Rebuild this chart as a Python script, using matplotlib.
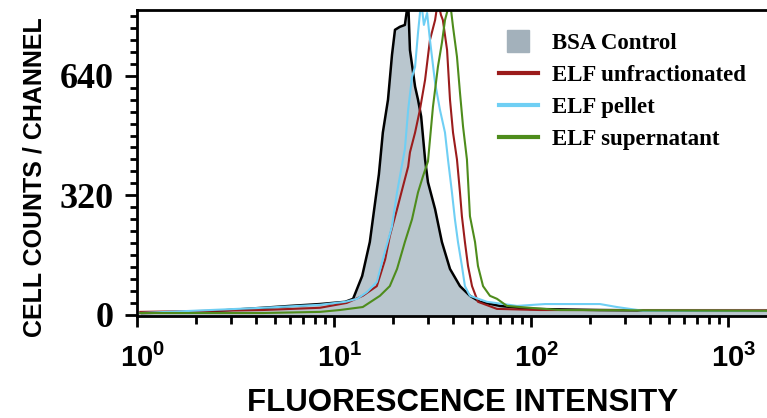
import matplotlib
matplotlib.use("Agg")
import matplotlib.pyplot as plt
from matplotlib.ticker import MultipleLocator, LogLocator, NullFormatter
from matplotlib.lines import Line2D
from matplotlib.transforms import ScaledTranslation
import numpy as np

plt.rcParams["mathtext.fontset"] = "custom"
plt.rcParams["mathtext.rm"] = "Liberation Sans"
plt.rcParams["mathtext.bf"] = "Liberation Sans:bold"

# %%
# values (fluorescence channel, cell counts)
bsa_x = [1.04, 2.09, 4.36, 5.98, 8.49, 11.4, 12.5, 13.9, 15.2, 16.0, 16.9, 17.7,
         18.8, 19.7, 20.4, 21.6, 22.9, 23.8, 24.3, 25.8, 26.7, 27.7, 29.0, 30.0,
         32.6, 35.3, 38.8, 43.6, 49.0, 55.1, 69.6, 98.8, 224, 721, 1578]
bsa_y = [5, 8, 19, 24, 29, 35, 43, 104, 195, 283, 376, 488,
         576, 696, 763, 771, 776, 840, 709, 611, 576, 531, 416, 355,
         283, 195, 123, 77, 51, 35, 24, 16, 13, 11, 11]

unfrac_x = [1.04, 4.36, 8.49, 11.6, 14.0, 16.5, 18.2, 19.2, 20.9, 22.4, 23.8, 24.3,
            25.8, 27.3, 29.0, 30.7, 32.6, 33.7, 34.9, 35.7, 37.5, 38.8, 40.2, 42.1,
            43.6, 44.6, 46.2, 47.9, 50.2, 53.8, 67.2, 111, 1578]
unfrac_y = [8, 13, 19, 32, 51, 77, 149, 211, 283, 344, 397, 435,
            488, 549, 629, 736, 789, 840, 803, 789, 709, 576, 488, 416,
            328, 264, 195, 131, 77, 35, 16, 13, 13]

pellet_x = [1.04, 4.36, 8.49, 11.4, 13.1, 14.7, 16.5, 17.7, 19.7, 20.9, 22.4, 22.9,
            23.8, 24.9, 25.8, 26.7, 27.7, 28.6, 29.7, 30.7, 32.6, 34.5, 36.6, 37.9,
            39.7, 41.1, 42.6, 44.6, 46.2, 49.0, 59.8, 84.9, 118, 224, 273, 370, 1578]
pellet_y = [5, 19, 27, 35, 43, 61, 88, 149, 237, 328, 416, 443,
            549, 637, 664, 755, 840, 776, 808, 736, 621, 549, 488, 416,
            328, 256, 195, 131, 77, 51, 35, 24, 29, 29, 21, 11, 11]

super_x = [1.04, 4.36, 8.49, 10.7, 14.0, 17.1, 19.2, 20.9, 22.9, 24.9, 26.7, 28.3,
           30.0, 31.8, 33.7, 35.3, 36.6, 38.8, 40.2, 42.1, 43.6, 45.2, 47.3, 49.0,
           52.0, 53.8, 57.1, 61.9, 67.2, 75.5, 87.9, 140, 1578]
super_y = [5, 5, 8, 13, 21, 51, 77, 123, 195, 256, 328, 371,
           411, 557, 664, 728, 789, 840, 771, 691, 595, 504, 416, 264,
           195, 131, 77, 51, 43, 24, 21, 13, 11]

labels = ["BSA Control", "ELF unfractionated", "ELF pellet", "ELF supernatant"]
colors = ["#a3b1bb", "#9b1c1c", "#6fcff4", "#4e8c1c"]

# %%
fig = plt.figure(figsize=(7.67, 4.18), dpi=100)
ax = fig.add_axes([137/767, 1 - 316/418, 630/767, 306/418])

ax.fill_between(bsa_x, bsa_y, -3, color="#b9c6ce", lw=0)
ax.plot(bsa_x, bsa_y, color="black", lw=1.8)
ax.plot(unfrac_x, unfrac_y, color=colors[1], lw=1.5)
ax.plot(pellet_x, pellet_y, color=colors[2], lw=1.5)
ax.plot(super_x, super_y, color=colors[3], lw=1.5)

ax.set_xscale("log")
ax.set_xlim(1, 1578)
ax.set_ylim(-3, 816)

# y axis: big bold serif labels, many minor ticks
ax.set_yticks([0, 320, 640])
ax.set_yticklabels(["0", "320", "640"], fontfamily="Liberation Serif",
                   fontweight="bold", fontsize=26)
ax.yaxis.set_minor_locator(MultipleLocator(32))
ax.tick_params(axis="y", which="major", direction="out", length=9, width=2, pad=8)
ax.tick_params(axis="y", which="minor", direction="out", length=5, width=2)

# x axis: decades
ax.set_xticks([1, 10, 100, 1000])
ax.set_xticklabels([r"$\mathbf{10^{0}}$", r"$\mathbf{10^{1}}$",
                    r"$\mathbf{10^{2}}$", r"$\mathbf{10^{3}}$"], fontsize=21)
ax.xaxis.set_minor_locator(LogLocator(base=10, subs=np.arange(2, 10)))
ax.xaxis.set_minor_formatter(NullFormatter())
ax.tick_params(axis="x", which="major", direction="out", length=8, width=2, pad=12)
ax.tick_params(axis="x", which="minor", direction="out", length=6, width=2)
shift = ScaledTranslation(6/100, 0, fig.dpi_scale_trans)
for lab in ax.get_xticklabels():
    lab.set_transform(lab.get_transform() + shift)

for s in ["left", "bottom", "top"]:
    ax.spines[s].set_linewidth(2)
ax.spines["right"].set_visible(False)

ax.set_xlabel("FLUORESCENCE INTENSITY", fontfamily="Liberation Sans",
              fontweight="bold", fontsize=22.5)
ax.xaxis.set_label_coords(0.517, -0.235)
ax.set_ylabel("CELL COUNTS / CHANNEL", fontfamily="Liberation Sans",
              fontweight="bold", fontsize=18)
ax.yaxis.set_label_coords(-0.143, 0.453)

handles = [Line2D([], [], marker="s", color=colors[0], linestyle="none", markersize=16),
           Line2D([], [], color=colors[1], lw=3),
           Line2D([], [], color=colors[2], lw=3),
           Line2D([], [], color=colors[3], lw=3)]
ax.legend(handles, labels, loc="upper left", bbox_to_anchor=(0.56, 0.955),
          frameon=False, prop={"family": "Liberation Serif", "weight": "bold", "size": 16.5},
          handlelength=1.7, handletextpad=0.6, labelspacing=0.48, borderaxespad=0)

fig.savefig("out.png", dpi=100)
